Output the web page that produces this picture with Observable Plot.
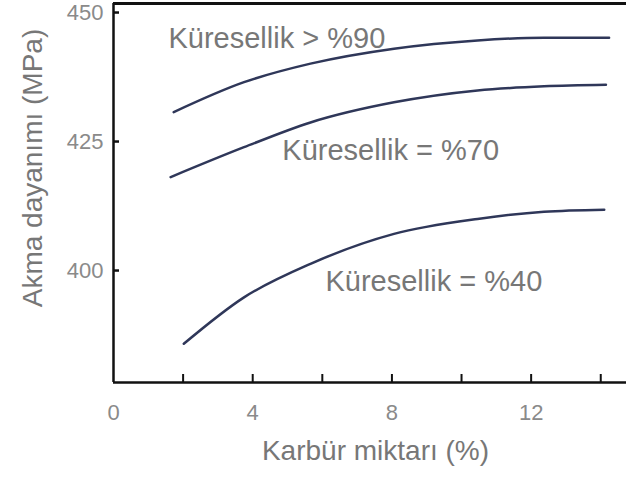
<!DOCTYPE html>
<html>
<head>
<meta charset="utf-8">
<script src="https://cdn.jsdelivr.net/npm/d3@7"></script>
<script src="https://cdn.jsdelivr.net/npm/@observablehq/plot@0.6"></script>
<style>
  html, body { margin: 0; padding: 0; background: #fff; }
  #chart svg { display: block; }
</style>
</head>
<body>
<div id="chart"></div>
<script>
// Yield strength (MPa) against carbide content (%) for three sphericity levels
const carbide90 = [1.73, 3.75, 5.66, 8.06, 10.46, 12.37, 14.24];
const strength90 = [430.7, 436.5, 440.1, 443.0, 444.6, 445.1, 445.1];

const carbide70 = [1.64, 3.75, 5.66, 8.06, 10.46, 12.37, 14.15];
const strength70 = [418.1, 423.9, 428.7, 432.6, 434.9, 435.7, 436.0];

const carbide40 = [2.02, 3.75, 5.66, 8.06, 10.46, 12.37, 14.1];
const strength40 = [385.8, 394.8, 401.3, 407.1, 410.0, 411.4, 411.8];

const seriesNames = ["Küresellik > %90", "Küresellik = %70", "Küresellik = %40"];
// where each curve's name sits (carbide %, MPa)
const labelX = [1.58, 4.85, 6.09];
const labelY = [445.0, 423.3, 397.8];

const xTickMarks = [2, 4, 6, 8, 10, 12, 14];
const xTickLabels = [0, 4, 8, 12];
const yTicks = [400, 425, 450];
const xDomain = [0, 14.74];
const yDomain = [378.3, 451.75];

const xTitle = "Karbür miktarı (%)";
const yTitle = "Akma dayanımı (MPa)";

const rows = (xs, ys, name) => xs.map((x, i) => ({x, y: ys[i], name}));
const curves = [
  rows(carbide90, strength90, seriesNames[0]),
  rows(carbide70, strength70, seriesNames[1]),
  rows(carbide40, strength40, seriesNames[2])
];
const labels = seriesNames.map((text, i) => ({text, x: labelX[i], y: labelY[i]}));

const lineColor = "#2f3759";
const textColor = "#777";
const tickColor = "#8a8a8a";

const chart = Plot.plot({
  width: 626,
  height: 481,
  marginLeft: 113,
  marginRight: 0,
  marginTop: 3,
  marginBottom: 99,
  x: {domain: xDomain},
  y: {domain: yDomain},
  style: {fontFamily: "'Liberation Sans', Arial, sans-serif", background: "#fff"},
  marks: [
    // inward tick marks
    Plot.axisX({ticks: xTickMarks, tickSize: -8, strokeWidth: 2, stroke: "#111", tickFormat: () => "", label: null}),
    Plot.axisY({ticks: yTicks, tickSize: -6, strokeWidth: 2.5, stroke: "#111", tickFormat: () => "", label: null}),
    // tick labels
    Plot.axisX({ticks: xTickLabels, tickSize: 0, tickPadding: 22, fontSize: 22, fill: tickColor, label: null}),
    Plot.axisY({ticks: yTicks, tickSize: 0, tickPadding: 10, fontSize: 22, fill: tickColor, label: null}),
    // frame: left, bottom and top edges
    Plot.ruleX([xDomain[0]], {stroke: "#111", strokeWidth: 2.5}),
    Plot.ruleY([yDomain[0]], {stroke: "#111", strokeWidth: 2.5}),
    Plot.ruleY([yDomain[1]], {stroke: "#111", strokeWidth: 3}),
    // curves
    ...curves.map(c => Plot.line(c, {x: "x", y: "y", curve: "monotone-x", stroke: lineColor, strokeWidth: 2.5})),
    // curve names
    Plot.text(labels, {x: "x", y: "y", text: "text", textAnchor: "start", fontSize: 29, fill: textColor}),
    // axis titles
    Plot.text([xTitle], {frameAnchor: "bottom-left", textAnchor: "middle", dx: 262, dy: 77, fontSize: 28, fill: textColor}),
    Plot.text([yTitle], {frameAnchor: "left", textAnchor: "middle", rotate: -90, dx: -80, dy: -25, fontSize: 28, fill: textColor})
  ]
});

document.getElementById("chart").appendChild(chart);
</script>
</body>
</html>
